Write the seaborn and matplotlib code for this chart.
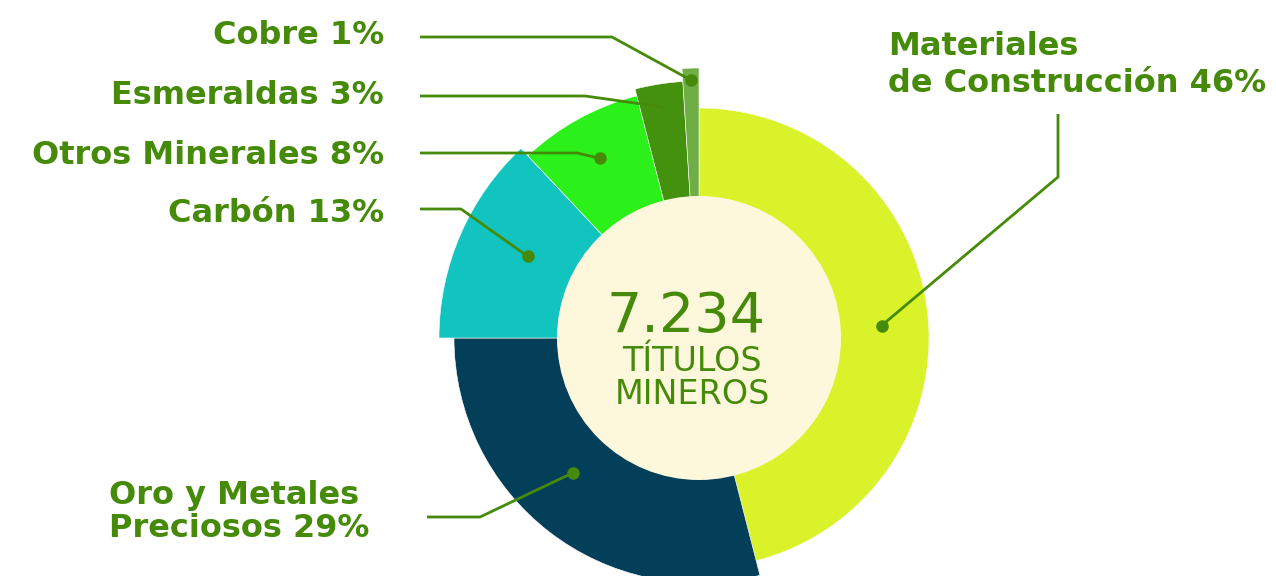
import numpy as np
import matplotlib
matplotlib.use("Agg")
import matplotlib.pyplot as plt
from matplotlib.patches import Wedge, Circle
import seaborn as sns

# ---- data ----
categories = ["Materiales\nde Construcción", "Oro y Metales\nPreciosos", "Carbón",
              "Otros Minerales", "Esmeraldas", "Cobre"]
shares = [46, 29, 13, 8, 3, 1]
total_titles = "7.234"
center_caption = "TÍTULOS\nMINEROS"

# ---- style / layout ----
colors = ["#DAF229", "#043F5A", "#12C4C0", "#2BF01A", "#44910D", "#6FAE45"]
outer_r = [230, 245, 260, 250, 257, 270]
dot_r = [183, 184, 190, 205, 234, 258]
dot_frac = [0.52, 0.55, 0.545, 0.5, 0.5, 0.5]
show_dot = [True, True, True, True, False, True]
text_color = "#468A0A"
center_fill = "#FDF8DC"
cx, cy, inner_r = 699, 338, 142
label_layout = [
    dict(tx=888, ty=65, ha="left", ls=1.28, p0=(1058, 114), p1=(1058, 177)),
    dict(tx=109, ty=512, ha="left", ls=1.12, p0=(427, 517), p1=(480, 517)),
    dict(tx=384, ty=213, ha="right", ls=1.0, p0=(420, 209), p1=(461, 209)),
    dict(tx=384, ty=155, ha="right", ls=1.0, p0=(420, 153), p1=(577, 153)),
    dict(tx=384, ty=96, ha="right", ls=1.0, p0=(420, 96), p1=(585, 96)),
    dict(tx=384, ty=35, ha="right", ls=1.0, p0=(420, 37), p1=(612, 37)),
]

sns.set_theme(style="white")
plt.rcParams["font.family"] = ["DejaVu Sans"]

fig = plt.figure(figsize=(12.76, 5.76), dpi=100)
ax = fig.add_axes([0, 0, 1, 1])
ax.set_xlim(0, 1276)
ax.set_ylim(576, 0)
ax.set_aspect("equal")
ax.axis("off")

frac = np.array(shares, dtype=float) / np.sum(shares)
ends = np.cumsum(frac) * 360.0
starts = ends - frac * 360.0

for i in range(len(shares)):
    w = Wedge((cx, cy), outer_r[i], starts[i] - 90, ends[i] - 90,
              width=outer_r[i] - inner_r + 2, facecolor=colors[i],
              edgecolor="white", linewidth=0.4, zorder=1)
    ax.add_patch(w)

ax.add_patch(Circle((cx, cy), inner_r, facecolor=center_fill, edgecolor="none", zorder=3))

ax.text(686, 317, total_titles, ha="center", va="center", fontsize=40,
        color=text_color, zorder=4)
ax.text(692, 378, center_caption, ha="center", va="center", fontsize=24,
        color=text_color, linespacing=1.0, zorder=4)

for i, cat in enumerate(categories):
    L = label_layout[i]
    ang = starts[i] + dot_frac[i] * (ends[i] - starts[i])
    dx = cx + dot_r[i] * np.sin(np.radians(ang))
    dy = cy - dot_r[i] * np.cos(np.radians(ang))
    xs = [L["p0"][0], L["p1"][0], dx]
    ys = [L["p0"][1], L["p1"][1], dy]
    ax.plot(xs, ys, color=text_color, linewidth=2, zorder=5, solid_capstyle="butt")
    if show_dot[i]:
        ax.plot([dx], [dy], "o", color=text_color, markersize=8, zorder=6)
    ax.text(L["tx"], L["ty"], f"{cat} {shares[i]}%", ha=L["ha"], va="center",
            fontsize=23, fontweight="bold", color=text_color, linespacing=L["ls"])

fig.savefig("out.png", dpi=100)
